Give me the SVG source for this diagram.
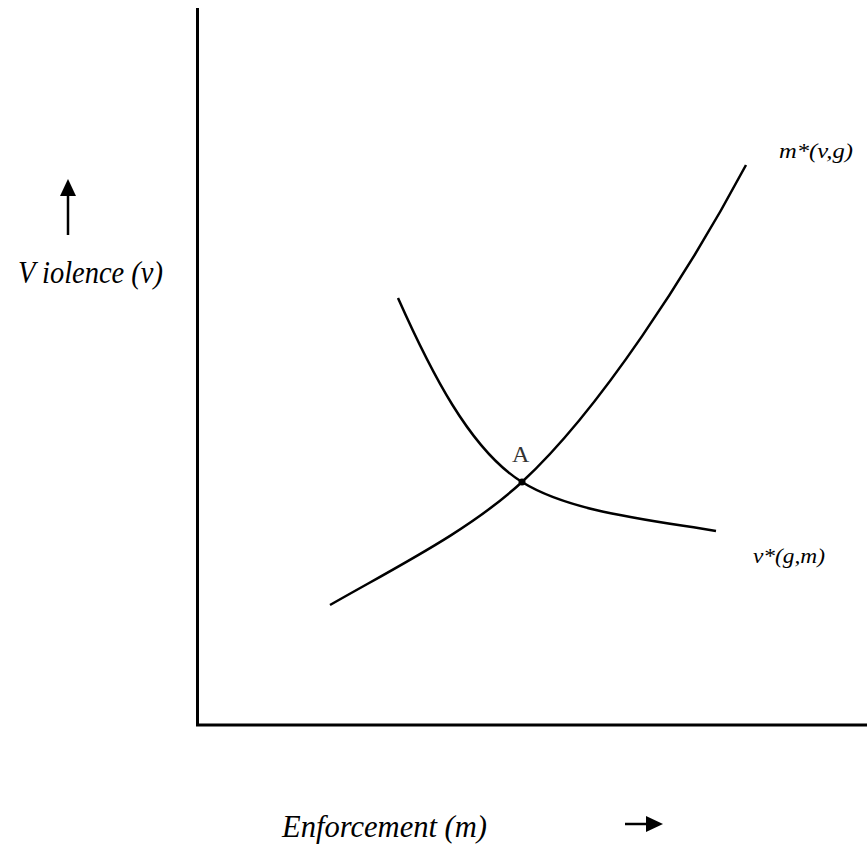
<svg xmlns="http://www.w3.org/2000/svg" width="867" height="850" viewBox="0 0 867 850">
<style>
.axis{stroke:#000;stroke-width:3;fill:none}
.curve{stroke:#000;stroke-width:2.5;fill:none}
.lbl{font-style:italic;fill:#000}
.pt{fill:#333}
.arr{stroke:#000;stroke-width:2.5}
</style>
<rect width="867" height="850" fill="#fff"/>
<g id="axes">
<path class="axis" d="M197.5,8 V725 H867"/>
</g>
<g id="connectors">
<path id="m-curve" class="curve" d="M330,605 C400,565 470,530 522,482 C600,410 690,270 746,165"/>
<path id="v-curve" class="curve" d="M398,298 C430,370 470,450 522,482 C570,512 650,520 716,531"/>
</g>
<g id="pointA">
<circle cx="522" cy="482" r="3.5" fill="#000"/>
<text class="pt" font-family="'Liberation Serif', 'DejaVu Serif', serif" x="512" y="462" font-size="24">A</text>
</g>
<g id="label-m">
<text class="lbl" font-family="'Liberation Serif', 'DejaVu Serif', serif" x="779" y="158" font-size="22" textLength="74" lengthAdjust="spacingAndGlyphs">m*(v,g)</text>
</g>
<g id="label-v">
<text class="lbl" font-family="'Liberation Serif', 'DejaVu Serif', serif" x="753" y="563" font-size="22" textLength="72" lengthAdjust="spacingAndGlyphs">v*(g,m)</text>
</g>
<g id="y-label">
<line class="arr" x1="68" y1="235" x2="68" y2="192"/>
<polygon points="68,179 60,196 76,196" fill="#000"/>
<text class="lbl" font-family="'Liberation Serif', 'DejaVu Serif', serif" x="18" y="283" font-size="31" textLength="145" lengthAdjust="spacingAndGlyphs">V iolence (v)</text>
</g>
<g id="x-label">
<text class="lbl" font-family="'Liberation Serif', 'DejaVu Serif', serif" x="282" y="837" font-size="32" textLength="205" lengthAdjust="spacingAndGlyphs">Enforcement (m)</text>
<line class="arr" x1="625" y1="824" x2="650" y2="824"/>
<polygon points="663,824 646,816 646,832" fill="#000"/>
</g>
</svg>
